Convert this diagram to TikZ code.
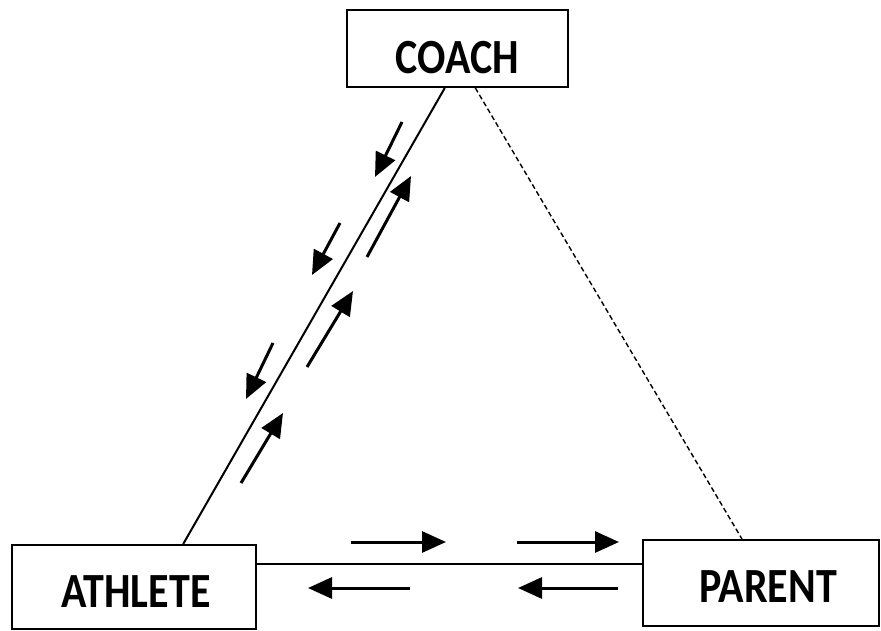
\documentclass[tikz,border=0pt]{standalone}
\usepackage{fontspec}
\setmainfont{Carlito}
\usetikzlibrary{arrows.meta,calc}
\begin{document}
\begin{tikzpicture}[x=1pt,y=-1pt,
  box/.style={draw=black,line width=2pt,inner sep=0pt},
  lbl/.style={font=\bfseries\fontsize{42}{42}\selectfont},
  conn/.style={line width=2pt},
  flow/.style={line width=3pt,-{Triangle[length=24pt,width=21pt]}}]
\useasboundingbox (0,0) rectangle (881,631);
\node[box,minimum width=221pt,minimum height=77pt] (coach) at (457.5,48.5) {};
\node[box,minimum width=244pt,minimum height=84pt] (athlete) at (134,587) {};
\node[box,minimum width=236pt,minimum height=86pt] (parent) at (761,583) {};
\node[lbl] (tc) at (457,58) {\scalebox{1}[1.17]{COACH}};
\node[lbl] (ta) at (136,592) {\scalebox{1}[1.17]{ATHLETE}};
\node[lbl] (tp) at (768,587) {\scalebox{1}[1.17]{PARENT}};
\draw[conn] ($(athlete.north west)!0.70!(athlete.north east)$) -- ($(coach.south west)!0.443!(coach.south east)$);
\draw[conn,dashed,dash pattern=on 5pt off 3pt,line width=1.4pt] ($(coach.south west)!0.58!(coach.south east)$) -- ($(parent.north west)!0.42!(parent.north east)$);
\draw[conn] ($(athlete.north east)+(0,20)$) -- ($(parent.north west)+(0,25)$);
% down arrows (coach to athlete)
\coordinate (d1s) at (402,122); \coordinate (d1e) at (375,177);
\coordinate (d2s) at (340,223); \coordinate (d2e) at (312,275);
\coordinate (d3s) at (273,343); \coordinate (d3e) at (246,399);
% up arrows (athlete to coach)
\coordinate (u1s) at (367,257); \coordinate (u1e) at (411,176);
\coordinate (u2s) at (307,367); \coordinate (u2e) at (353,291);
\coordinate (u3s) at (241,483); \coordinate (u3e) at (283,413);
\foreach \a in {d1,d2,d3,u1,u2,u3} \draw[flow] (\a s) -- (\a e);
% horizontal arrows
\coordinate (r1s) at (351,542); \coordinate (r1e) at (446,542);
\coordinate (r2s) at (517,542); \coordinate (r2e) at (619,542);
\coordinate (l1s) at (410,588); \coordinate (l1e) at (308,588);
\coordinate (l2s) at (618,588); \coordinate (l2e) at (518,588);
\foreach \a in {r1,r2,l1,l2} \draw[flow] (\a s) -- (\a e);
\end{tikzpicture}
\end{document}
